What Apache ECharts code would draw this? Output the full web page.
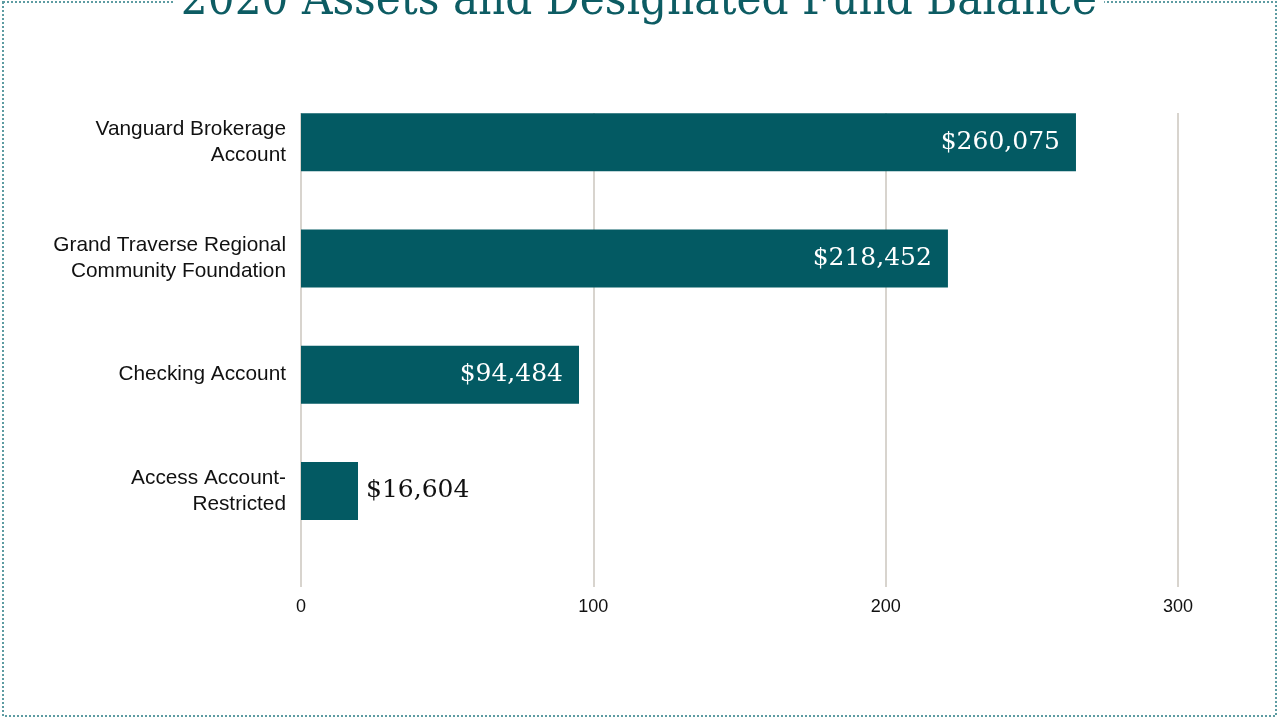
<!DOCTYPE html>
<html>
<head>
<meta charset="utf-8">
<script src="https://cdn.jsdelivr.net/npm/echarts@6/dist/echarts.min.js"></script>
<style>
  html, body { margin: 0; padding: 0; background: #fff; }
  #main { width: 1278px; height: 720px; }
</style>
</head>
<body>
<div id="main"></div>
<script>
var categories = ['Vanguard Brokerage\nAccount', 'Grand Traverse Regional\nCommunity Foundation',
    'Checking Account', 'Access Account-\nRestricted'];
// bar lengths as drawn, in thousands
var barValues = [265.1, 221.3, 95.1, 19.5];
var amountLabels = ['$260,075', '$218,452', '$94,484', '$16,604'];
var xTicks = [0, 100, 200, 300];

var teal = '#035a63';

var seriesData = barValues.map(function (v, i) {
    var item = { value: v, label: { formatter: amountLabels[i] } };
    if (i === barValues.length - 1) {
        item.label.position = 'right';
        item.label.distance = 8;
        item.label.color = '#111';
    }
    return item;
});

option = {
    animation: false,
    backgroundColor: '#fff',
    title: {
        text: '2020 Assets and Designated Fund Balance',
        left: 'center',
        top: -22,
        padding: [0, 7],
        backgroundColor: '#fff',
        textStyle: {
            fontFamily: 'DejaVu Serif Condensed',
            fontWeight: 'normal',
            fontSize: 47,
            color: '#0d5c63'
        }
    },
    graphic: [{
        type: 'rect',
        z: 0,
        shape: { x: 3, y: 2, width: 1273, height: 714 },
        style: { fill: 'none', stroke: '#5d9ca2', lineWidth: 2, lineDash: [2, 2] }
    }],
    grid: [
        { left: 301, right: 100, top: 84, height: 465 },
        { left: 301, right: 100, top: 113, bottom: 133 }
    ],
    xAxis: [{
        gridIndex: 0,
        type: 'value',
        min: 0,
        max: 300,
        show: false
    }, {
        gridIndex: 1,
        type: 'value',
        min: xTicks[0],
        max: xTicks[xTicks.length - 1],
        interval: 100,
        axisLine: { show: false },
        axisTick: { show: false },
        axisLabel: {
            margin: 11,
            fontFamily: 'Liberation Sans',
            fontSize: 18,
            color: '#111'
        },
        splitLine: { lineStyle: { color: '#d8d4ce', width: 2 } }
    }],
    yAxis: [{
        gridIndex: 0,
        type: 'category',
        data: categories,
        inverse: true,
        axisLine: { show: false },
        axisTick: { show: false },
        axisLabel: {
            margin: 15,
            fontFamily: 'Liberation Sans',
            fontSize: 20.8,
            lineHeight: 26,
            color: '#111',
            align: 'right'
        }
    }, {
        gridIndex: 1,
        type: 'value',
        show: false
    }],
    series: [{
        type: 'bar',
        xAxisIndex: 0,
        yAxisIndex: 0,
        data: seriesData,
        barWidth: 58,
        itemStyle: { color: teal },
        label: {
            show: true,
            position: 'insideRight',
            distance: 16,
            fontFamily: 'DejaVu Serif',
            fontSize: 25,
            color: '#fff'
        }
    }]
};
var myChart = echarts.init(document.getElementById('main'));
myChart.setOption(option);
</script>
</body>
</html>
